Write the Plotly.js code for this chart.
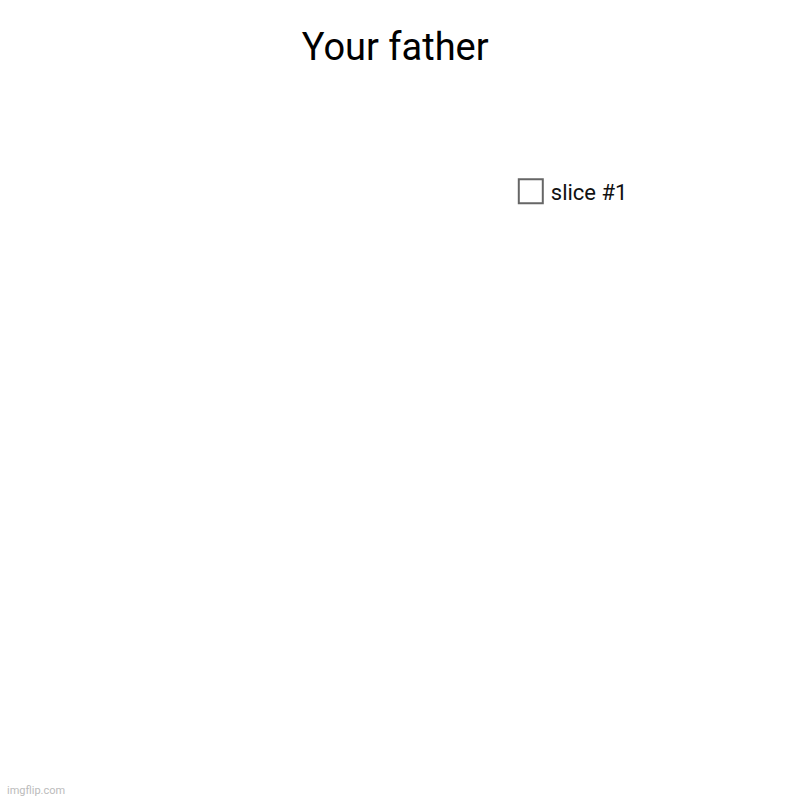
<!DOCTYPE html>
<html lang="en">
<head>
    <meta charset="UTF-8">
    <title>Your father</title>
    <script src="https://cdn.plot.ly/plotly-3.0.1.min.js"></script>
    <style>
        html, body { margin: 0; padding: 0; background: #fff; }
        #chart { width: 800px; height: 800px; }
    </style>
</head>
<body>
<div id="chart"></div>
<script>
    // Data for the pie (one empty slice, nothing to draw but the legend entry)
    var sliceLabels = ['slice #1'];
    var sliceColors = ['#ffffff'];

    var data = [{
        type: 'pie',
        labels: sliceLabels,
        sort: false,
        textinfo: 'none',
        hoverinfo: 'skip',
        marker: { colors: sliceColors, line: { color: '#ffffff', width: 0 } },
        domain: { x: [0.05, 0.6], y: [0.1, 0.85] }
    }];

    var layout = {
        width: 800,
        height: 800,
        margin: { l: 0, r: 0, t: 0, b: 0 },
        paper_bgcolor: '#ffffff',
        font: { family: 'Roboto, sans-serif', color: '#000' },
        title: {
            text: 'Your father',
            font: { size: 38, color: '#000' },
            x: 0.494, xanchor: 'center',
            y: 0.942, yanchor: 'middle'
        },
        showlegend: true,
        legend: {
            x: 0.6385, xanchor: 'left',
            y: 0.787, yanchor: 'top',
            font: { size: 22, color: '#111' },
            bgcolor: 'rgba(0,0,0,0)'
        },
        annotations: [{
            text: 'imgflip.com',
            xref: 'paper', yref: 'paper',
            x: 0.006, y: 0.012, xanchor: 'left', yanchor: 'middle',
            showarrow: false,
            font: { size: 11, color: '#bbbbbb' }
        }]
    };

    Plotly.newPlot('chart', data, layout, { displayModeBar: false }).then(function () {
        // bigger grey-bordered legend swatch, like the original
        document.querySelectorAll('.legendpoints path').forEach(function (p) {
            var t = p.getAttribute('transform') || '';
            p.setAttribute('transform', t + ' scale(2)');
            p.style.stroke = '#666666';
            p.style.strokeWidth = '1px';
        });
    });
</script>
</body>
</html>
